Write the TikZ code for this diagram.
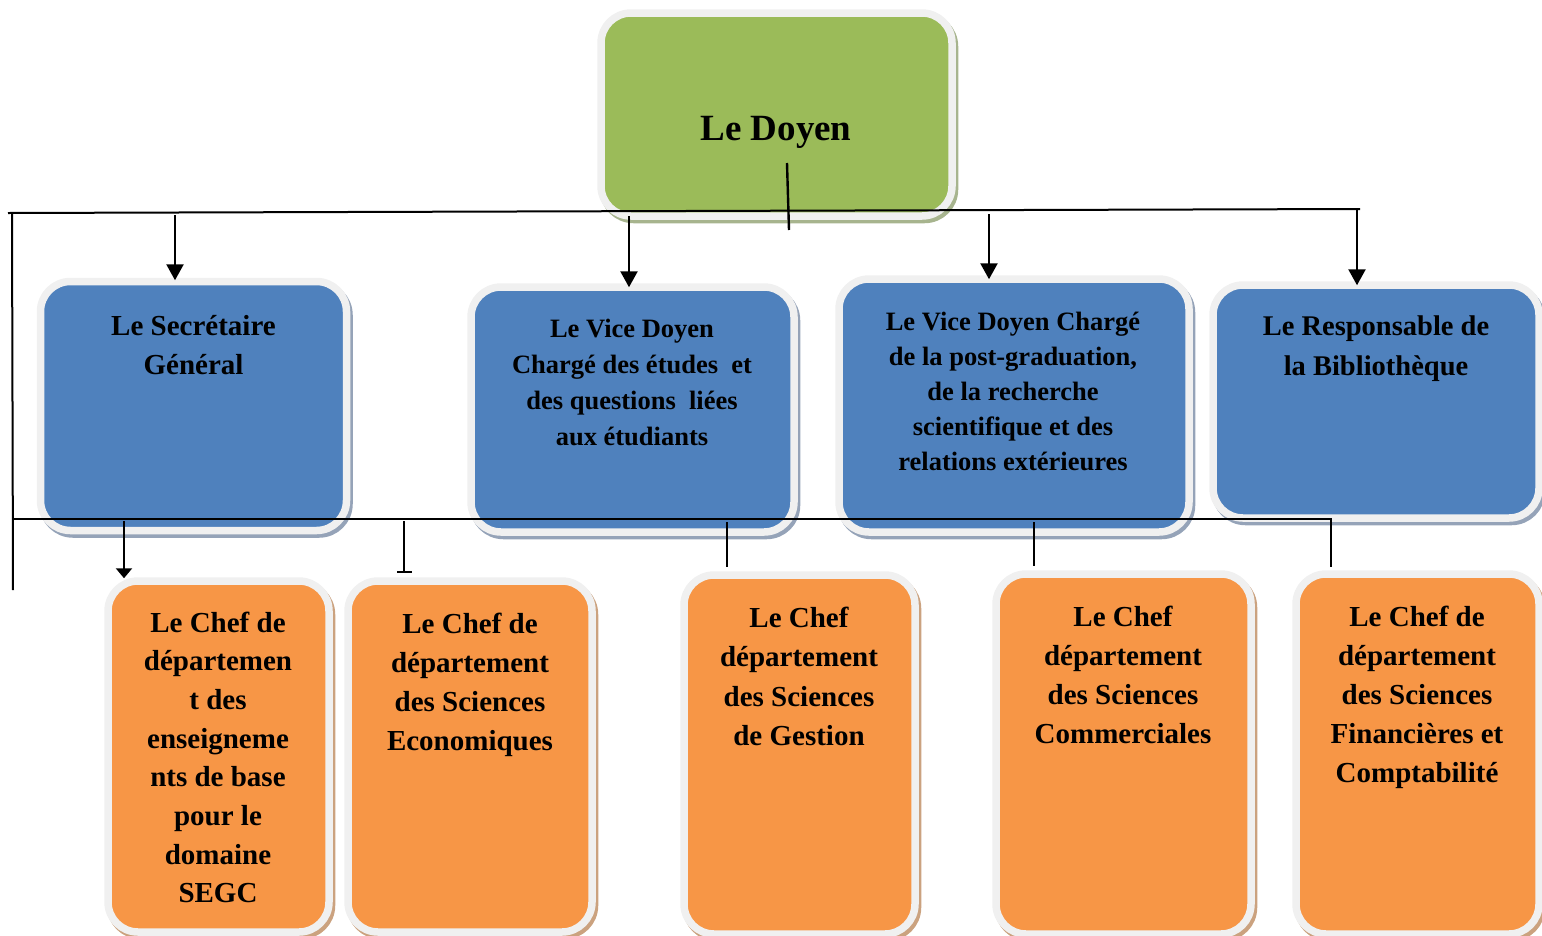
\documentclass[tikz,border=0pt]{standalone}
\usepackage{fontspec}
\setmainfont{Liberation Serif}
\usetikzlibrary{arrows.meta,calc}

\definecolor{doyengreen}{HTML}{9BBB59}
\definecolor{chiefblue}{HTML}{4F81BD}
\definecolor{deptorange}{HTML}{F79646}
\definecolor{ringgray}{HTML}{F0F0F0}
\definecolor{greenshade}{HTML}{A7B48E}
\definecolor{blueshade}{HTML}{95A3B8}
\definecolor{orangeshade}{HTML}{CBA27F}

% centred block of lines whose baseline is the first line
\newcommand\boxtext[3]{\fontsize{#1}{#2}\selectfont\begin{tabular}[t]{@{}c@{}}#3\end{tabular}}

\tikzset{
  panel/.style 2 args={rectangle, rounded corners=30pt, fill=#1, draw=ringgray,
    line width=7.5pt, inner sep=0pt,
    preaction={draw=#2, fill=#2, line width=7.5pt,
      transform canvas={shift={(2.5pt,-3.5pt)}}}},
  greenbox/.style={panel={doyengreen}{greenshade}},
  bluebox/.style={panel={chiefblue}{blueshade}},
  orangebox/.style={panel={deptorange}{orangeshade}},
  caption/.style={anchor=base, inner sep=0pt, font=\bfseries},
  busline/.style={line width=2pt, black},
  arr/.style={line width=2.4pt, black, -{Triangle[width=17pt,length=16pt]}},
  shortarr/.style={line width=2.4pt, black, -{Triangle[width=16pt,length=10pt]}},
  barend/.style={line width=2.4pt, black, -{Bar[width=15pt,line width=2pt]}},
  stem/.style={line width=2.4pt, black},
}

\begin{document}
\begin{tikzpicture}[x=1pt,y=-1pt]
\useasboundingbox (0,0) rectangle (1542,935);

% boxes
\node[greenbox, minimum width=351pt, minimum height=203pt] (doyen) at (776.5,114.5) {};

\node[bluebox, minimum width=306pt, minimum height=249pt] (sec) at (193.5,406) {};
\node[bluebox, minimum width=323pt, minimum height=245pt] (vdA) at (632.5,409.5) {};
\node[bluebox, minimum width=350pt, minimum height=253pt] (vdB) at (1014,405.5) {};
\node[bluebox, minimum width=326pt, minimum height=233pt] (resp) at (1376,401.5) {};

\node[orangebox, minimum width=221pt, minimum height=351pt] (dA) at (218.5,756.5) {};
\node[orangebox, minimum width=244pt, minimum height=351pt] (dB) at (470,756.5) {};
\node[orangebox, minimum width=231pt, minimum height=359pt] (dC) at (799.5,754.5) {};
\node[orangebox, minimum width=255pt, minimum height=360pt] (dD) at (1123.5,754) {};
\node[orangebox, minimum width=243pt, minimum height=360pt] (dE) at (1417.5,754) {};

% captions
\node[caption] (tdoyen) at (776,140) {\boxtext{37}{44}{Le Doyen}};
\node[caption] (tsec) at (193.5,335) {\boxtext{29}{39}{Le Secrétaire\\Général}};
\node[caption] (tvdA) at (632,337) {\boxtext{26.5}{36}{Le Vice Doyen\\Chargé des études~ et\\des questions~ liées\\aux étudiants}};
\node[caption] (tvdB) at (1013,330) {\boxtext{26.5}{35}{Le Vice Doyen Chargé\\de la post-graduation,\\de la recherche\\scientifique et des\\relations extérieures}};
\node[caption] (tresp) at (1376,335) {\boxtext{28.5}{40}{Le Responsable de\\la Bibliothèque}};

\node[caption] (tdA) at (218,632) {\boxtext{29}{38.7}{Le Chef de\\départemen\\t des\\enseigneme\\nts de base\\pour le\\domaine\\SEGC}};
\node[caption] (tdB) at (470,633) {\boxtext{29}{39.3}{Le Chef de\\département\\des Sciences\\Economiques}};
\node[caption] (tdC) at (799,627) {\boxtext{29}{39.5}{Le Chef\\département\\des Sciences\\de Gestion}};
\node[caption] (tdD) at (1123,626) {\boxtext{29}{39}{Le Chef\\département\\des Sciences\\Commerciales}};
\node[caption] (tdE) at (1417,626) {\boxtext{29}{39}{Le Chef de\\département\\des Sciences\\Financières et\\Comptabilité}};

% upper distribution bus
\coordinate (busL) at (8,213);
\coordinate (busR) at (1360,209);
\coordinate (stemTop) at (787,163);
\coordinate (stemBot) at (789,230);
\coordinate (sideTop) at (12,213);
\coordinate (sideBot) at (13,590);
\draw[busline] (busL) -- (busR);
\draw[stem] (stemTop) -- (stemBot);
\draw[busline] (sideTop) -- (sideBot);

\coordinate (uA) at (175,215);
\coordinate (uB) at (629,216);
\coordinate (uC) at (989,214);
\coordinate (uD) at (1357,209);
\draw[arr, shorten >=-2.5pt] (uA) -- (uA |- sec.north);
\draw[arr, shorten >=-4pt] (uB) -- (uB |- vdA.north);
\draw[arr, shorten >=-4pt] (uC) -- (uC |- vdB.north);
\draw[arr, shorten >=-4pt] (uD) -- (uD |- resp.north);

% lower distribution bus
\coordinate (lowL) at (12,519);
\coordinate (lowR) at (1332,519);
\draw[busline] (lowL) -- (lowR);

\coordinate (lA) at (124,521);
\coordinate (lB) at (404,521);
\coordinate (lC) at (727,522);
\coordinate (lD) at (1034,522);
\coordinate (lE) at (1331,519);
\draw[shortarr, shorten >=-1pt] (lA) -- (lA |- dA.north);
\draw[barend, shorten >=4pt] (lB) -- (lB |- dB.north);
\draw[stem, shorten >=4pt] (lC) -- (lC |- dC.north);
\draw[stem, shorten >=4pt] (lD) -- (lD |- dD.north);
\draw[stem, shorten >=3pt] (lE) -- (lE |- dE.north);
\end{tikzpicture}
\end{document}
